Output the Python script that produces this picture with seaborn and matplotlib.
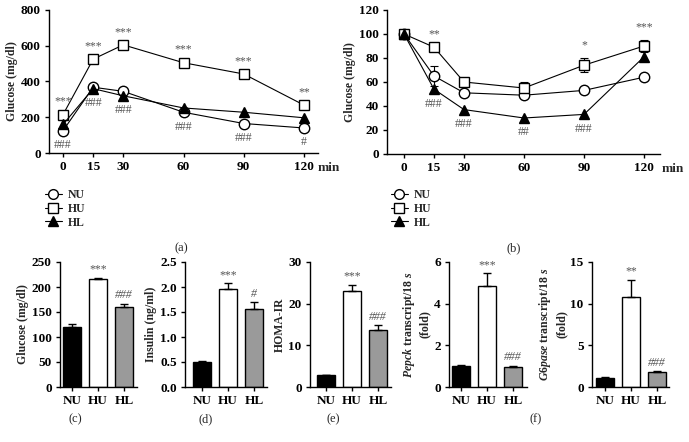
import numpy as np
import pandas as pd
import seaborn as sns
import matplotlib.pyplot as plt
from matplotlib.lines import Line2D

sns.set_style('ticks')
plt.rcParams['font.family'] = ['Liberation Serif', 'DejaVu Serif']
plt.rcParams['font.weight'] = 'bold'
plt.rcParams['axes.labelweight'] = 'bold'
plt.rcParams['mathtext.fontset'] = 'custom'
plt.rcParams['mathtext.rm'] = 'Liberation Serif:bold'
plt.rcParams['mathtext.it'] = 'Liberation Serif:italic:bold'

minutes = [0, 15, 30, 60, 90, 120]
groups = ['NU', 'HU', 'HL']

# (a) glucose over time
gtt_nu = [125, 368, 345, 228, 165, 140]
gtt_hu = [215, 525, 605, 505, 442, 268]
gtt_hl = [160, 360, 320, 252, 228, 197]
gtt_stars = ['***', '***', '***', '***', '***', '**']
gtt_hash = ['###', '###', '###', '###', '###', '#']

# (b) glucose (% of start) over time
itt_nu = [100, 65, 51, 49, 53, 64]
itt_nu_err = [0, 8, 0, 0, 0, 0]
itt_hu = [100, 89, 60, 55, 74, 90]
itt_hu_err = [0, 0, 0, 5, 6, 5]
itt_hl = [100, 54, 37, 30, 33, 81]
itt_stars = ['', '**', '', '', '*', '***']
itt_hash = ['', '###', '###', '##', '###', '']

# (c)-(f) bars
glucose = [120, 217, 161]
glucose_err = [6, 2, 6]
insulin = [0.51, 1.97, 1.57]
insulin_err = [0.01, 0.11, 0.13]
homa = [2.8, 23.0, 13.8]
homa_err = [0.15, 1.5, 1.1]
pepck = [1.0, 4.85, 0.95]
pepck_err = [0.05, 0.6, 0.08]
g6pase = [1.05, 10.75, 1.8]
g6pase_err = [0.15, 2.1, 0.12]

bar_stars = [['', '***', '###'], ['', '***', '#'], ['', '***', '###'],
             ['', '***', '###'], ['', '**', '###']]
bar_colors = ['black', 'white', '#9a9a9a']

W, H = 689, 442
fig = plt.figure(figsize=(W / 100, H / 100), dpi=100)


def box(left, right, top, bottom):
    return [left / W, 1 - bottom / H, (right - left) / W, (bottom - top) / H]


def style_ax(ax):
    sns.despine(ax=ax)
    for s in ['left', 'bottom']:
        ax.spines[s].set_linewidth(1.0)
        ax.spines[s].set_color('k')
    ax.tick_params(direction='out', length=3, width=1, labelsize=9.5, pad=3, colors='k')


markers = [('o', 'white'), ('s', 'white'), ('^', 'black')]
note_kw = dict(textcoords='offset points', ha='center', fontsize=8.5,
               color='#555', fontweight='normal')


def line_panel(ax, series, errs, stars, hashes, low_series, star_base):
    for vals, err, (mk, face) in zip(series, errs, markers):
        df = pd.DataFrame({'min': minutes, 'val': vals})
        sns.lineplot(data=df, x='min', y='val', ax=ax, color='k', lw=0.8,
                     marker=mk, markersize=7.5 if mk != 's' else 7,
                     markerfacecolor=face, markeredgecolor='k',
                     markeredgewidth=1.0, zorder=3)
        e = np.array(err)
        sel = e > 0
        if sel.any():
            ax.errorbar(np.array(minutes)[sel], np.array(vals)[sel],
                        yerr=e[sel], fmt='none', ecolor='k', elinewidth=0.8,
                        capsize=3, capthick=0.8, zorder=2)
    for m, s, y in zip(minutes, stars, star_base):
        if s:
            ax.annotate(s, xy=(m, y), xytext=(0, 5), va='bottom', **note_kw)
    for m, s, y in zip(minutes, hashes, low_series):
        if s:
            ax.annotate(s, xy=(m, y), xytext=(0, -6), va='top', **note_kw)
    ax.set_xticks(minutes)
    ax.set_xlabel('')
    ax.set_ylabel('Glucose (mg/dl)', fontsize=8.5, labelpad=2)
    style_ax(ax)


# (a)
ax_a = fig.add_axes(box(49, 318, 10, 153))
line_panel(ax_a, [gtt_nu, gtt_hu, gtt_hl], [[0] * 6] * 3, gtt_stars, gtt_hash,
           np.minimum(gtt_nu, gtt_hl), gtt_hu)
ax_a.set_xlim(-7, 127)
ax_a.set_ylim(0, 800)
ax_a.set_yticks([0, 200, 400, 600, 800])
ax_a.annotate('min', xy=(1, 0), xycoords='axes fraction', xytext=(8, -10.5),
              textcoords='offset points', ha='center', va='center', fontsize=9.5)

# (b)
ax_b = fig.add_axes(box(387, 660, 10, 154))
line_panel(ax_b, [itt_nu, itt_hu, itt_hl], [itt_nu_err, itt_hu_err, [0] * 6],
           itt_stars, itt_hash, itt_hl,
           np.array(itt_hu) + np.array(itt_hu_err))
ax_b.set_xlim(-8.5, 128)
ax_b.set_ylim(0, 120)
ax_b.set_yticks([0, 20, 40, 60, 80, 100, 120])
ax_b.annotate('min', xy=(1, 0), xycoords='axes fraction', xytext=(9, -10.5),
              textcoords='offset points', ha='center', va='center', fontsize=9.5)

# legends
handles = [Line2D([0], [0], color='k', lw=0.8, marker=mk, ms=7,
                  markerfacecolor=face, markeredgecolor='k', markeredgewidth=1.0)
           for mk, face in markers]
for x0 in [45, 391]:
    fig.legend(handles, groups, loc='upper left', bbox_to_anchor=(x0 / W, 1 - 189 / H),
               frameon=False, fontsize=8.5, handlelength=1.4, handletextpad=0.5,
               labelspacing=0.15, borderpad=0, borderaxespad=0)

# bar panels
bar_specs = [
    (glucose, glucose_err, 'Glucose (mg/dl)', [0, 50, 100, 150, 200, 250], (60, 137, 72), '%d'),
    (insulin, insulin_err, 'Insulin (ng/ml)', [0, 0.5, 1.0, 1.5, 2.0, 2.5], (185, 267, 202), '%.1f'),
    (homa, homa_err, 'HOMA-IR', [0, 10, 20, 30], (310, 391, 326), '%d'),
    (pepck, pepck_err, '$\\it{Pepck}$ transcript/$\\it{18\\ s}$\n(fold)', [0, 2, 4, 6], (449, 527, 461), '%d'),
    (g6pase, g6pase_err, '$\\it{G6pase}$ transcript/$\\it{18\\ s}$\n(fold)', [0, 5, 10, 15], (592, 669, 605), '%d'),
]
for (vals, err, lab, ticks, (l, r, c0), fmt), marks in zip(bar_specs, bar_stars):
    ax = fig.add_axes(box(l, r, 262, 387))
    df = pd.DataFrame({'group': groups, 'val': vals})
    sns.barplot(data=df, x='group', y='val', hue='group', palette=bar_colors,
                legend=False, ax=ax, width=0.68, edgecolor='k', linewidth=1.0,
                errorbar=None)
    ax.errorbar(range(3), vals, yerr=[[0, 0, 0], err], fmt='none', ecolor='k',
                elinewidth=1.0, capsize=3, capthick=1.0)
    for i, s in enumerate(marks):
        if s:
            ax.annotate(s, xy=(i, vals[i] + err[i]), xytext=(0, 1.5), va='bottom',
                        fontstyle='normal' if '*' in s else 'italic', **note_kw)
    ax.set_xlim((l - c0) / 26, (r - c0) / 26)
    ax.set_ylim(ticks[0], ticks[-1])
    ax.set_yticks(ticks)
    ax.set_yticklabels([fmt % t for t in ticks])
    ax.set_xlabel('')
    ax.set_ylabel(lab, fontsize=8.5, linespacing=1.3, labelpad=2)
    style_ax(ax)

for lbl, x, y in [('(a)', 181, 248), ('(b)', 514, 248), ('(c)', 75, 419),
                  ('(d)', 206, 419), ('(e)', 333, 419), ('(f)', 536, 419)]:
    fig.text(x / W, 1 - y / H, lbl, ha='center', va='center', fontsize=9,
             fontweight='normal')

fig.savefig('out.png', dpi=100)
